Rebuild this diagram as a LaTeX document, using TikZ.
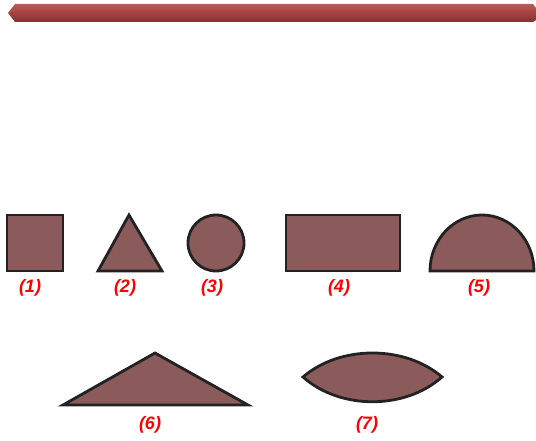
\documentclass[tikz,border=0pt]{standalone}
\usepackage{fontspec}
\newfontfamily\labelfont{Liberation Sans}
\usepackage{tikz}
\usetikzlibrary{positioning}
\definecolor{barred}{HTML}{A5423F}
\definecolor{bardark}{HTML}{7E3432}
\definecolor{shapefill}{HTML}{8B5B5B}
\definecolor{edgegray}{HTML}{222222}

\begin{document}
\begin{tikzpicture}[x=1pt, y=-1pt,
    solid/.style={draw=edgegray, fill=shapefill, line width=2.8pt, line join=miter},
    tag/.style={text=red, font=\labelfont\bfseries\itshape\fontsize{18}{21}\selectfont, inner sep=0pt}]
  \useasboundingbox (0,0) rectangle (536,441);
  % top bar
  \shade[top color=barred!85!white, bottom color=bardark, middle color=barred]
    (8,13) -- (15,4) -- (533,4) -- (536,8) -- (536,20) -- (533,22) -- (15,22) -- cycle;
  % first row
  \draw[solid] (7,215) rectangle (63,271);
  \draw[solid] (129,215) -- (162,271) -- (98,271) -- cycle;
  \draw[solid] (216,243) circle[radius=28];
  \draw[solid] (286,215) rectangle (400,271);
  \draw[solid] (430,271) arc[start angle=180, end angle=360, x radius=52, y radius=56] -- cycle;
  % second row
  \draw[solid] (63,405) -- (155,353) -- (248,405) -- cycle;
  \draw[solid] (303,377) .. controls (340,345) and (405,345) .. (442,377)
    .. controls (405,410) and (340,410) .. (303,377) -- cycle;
  % labels
  \node[tag] (t1) at (30,288) {(1)};
  \node[tag] (t2) at (125,288) {(2)};
  \node[tag] (t3) at (212,288) {(3)};
  \node[tag] (t4) at (339,288) {(4)};
  \node[tag] (t5) at (479,288) {(5)};
  \node[tag] (t6) at (150,425) {(6)};
  \node[tag] (t7) at (367,425) {(7)};
\end{tikzpicture}
\end{document}
